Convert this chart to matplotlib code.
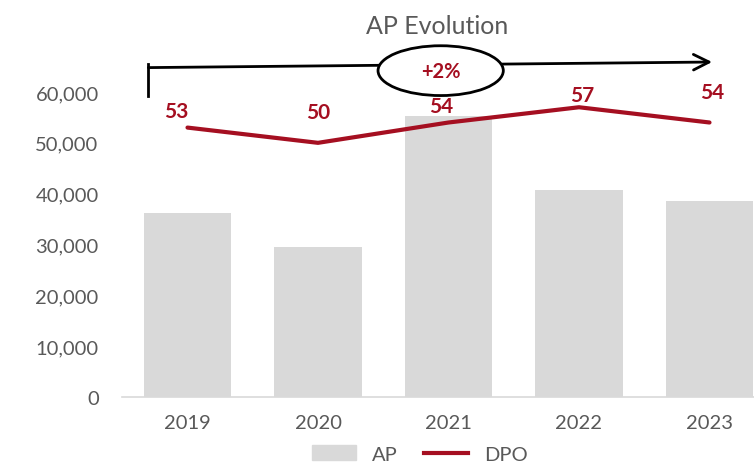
import matplotlib.pyplot as plt
from matplotlib.patches import Ellipse
from matplotlib.lines import Line2D
from matplotlib.patches import Patch

years = ["2019", "2020", "2021", "2022", "2023"]
ap = [36100, 29600, 55300, 40800, 38600]
dpo = [53, 50, 54, 57, 54]
growth_label = "+2%"

grey_txt = "#595959"
red = "#A50F21"
bar_col = "#D9D9D9"

plt.rcParams['font.family'] = ['Lato', 'DejaVu Sans']

fig = plt.figure(figsize=(7.54, 4.64), dpi=100)
W, H = 754, 464
left, right = 122.25, 774.75
bottom, top = 398, 93
ax = fig.add_axes([left / W, 1 - bottom / H, (right - left) / W, (bottom - top) / H])

x = list(range(len(years)))
ax.bar(x, ap, width=0.667, color=bar_col, zorder=1)
ax.set_xlim(-0.5, len(years) - 0.5)
ax.set_ylim(0, 60000)
ax.set_yticks(range(0, 60001, 10000))
ax.set_yticklabels([f"{v:,}" for v in range(0, 60001, 10000)])
ax.set_xticks(x)
ax.set_xticklabels(years)
ax.tick_params(axis='both', length=0, labelsize=14.5, labelcolor=grey_txt)
ax.tick_params(axis='y', pad=17)
ax.tick_params(axis='x', pad=12)
for s in ['top', 'right', 'left']:
    ax.spines[s].set_visible(False)
ax.spines['bottom'].set_color('#D9D9D9')
ax.spines['bottom'].set_linewidth(1.2)

# DPO on a hidden secondary axis
ax2 = ax.twinx()
ax2.set_ylim(0, 60)
ax2.axis('off')
ax2.plot(x, dpo, color=red, lw=3, solid_capstyle='round', zorder=3)
label_offsets = [(-11, 17), (0, 31), (-7, 16), (3, 12), (3, 30)]
for xi, v, off in zip(x, dpo, label_offsets):
    ax2.annotate(str(v), (xi, v), xytext=off, textcoords='offset pixels',
                 ha='center', va='center', color=red, fontsize=15,
                 fontweight='bold', annotation_clip=False)

# growth arrow with ellipse
ax2.plot([-0.3, -0.3], [59.2, 65.6], color='black', lw=2, clip_on=False)
ax2.annotate("", xy=(4.02, 65.9), xytext=(-0.3, 64.8),
             arrowprops=dict(arrowstyle='->', color='black', lw=2,
                             mutation_scale=28, shrinkA=0, shrinkB=0),
             annotation_clip=False)
ell = Ellipse((1.94, 64.2), 0.96, 9.8, facecolor='white', edgecolor='black',
              lw=2, clip_on=False, zorder=5)
ax2.add_patch(ell)
ax2.text(1.94, 64.2, growth_label, ha='center', va='center', color=red,
         fontsize=14.5, fontweight='bold', zorder=6, clip_on=False)

fig.text(437 / W, 1 - 27 / H, "AP Evolution", ha='center', va='center',
         fontsize=18, color=grey_txt)

handles = [Patch(color=bar_col, label="AP"),
           Line2D([0], [0], color=red, lw=3, label="DPO")]
fig.legend(handles=handles, loc='center', bbox_to_anchor=(420 / W, 1 - 455 / H),
           ncol=2, frameon=False, fontsize=14.5, labelcolor=grey_txt,
           handlelength=2.2, columnspacing=1.3, handletextpad=0.8)

fig.savefig("out.png", dpi=100)
